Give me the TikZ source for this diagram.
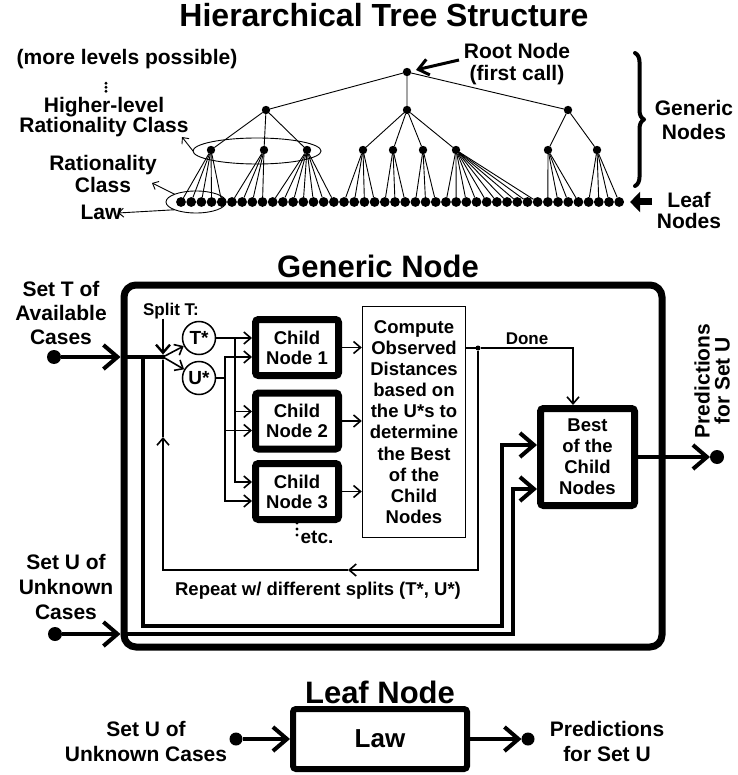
\documentclass[tikz,border=0pt]{standalone}
\usepackage{fontspec}
\setmainfont{Liberation Sans}
\usetikzlibrary{arrows.meta, shapes.geometric, decorations.pathreplacing, calc}
\newcommand{\myfs}[2]{\fontsize{#1}{#2}\selectfont\bfseries}
\begin{document}
\begin{tikzpicture}[x=1pt,y=-1pt,
  every node/.style={inner sep=0pt, outer sep=0pt},
  lbl/.style={align=center, font=\myfs{21}{22}},
  tline/.style={line width=0.9pt},
  idot/.style={circle, fill=black, minimum size=8.4pt},
  ldot/.style={circle, fill=black, minimum size=9.8pt},
  oval/.style={draw, ellipse, line width=0.9pt},
  larrow/.style={line width=0.9pt, -{Straight Barb[length=5pt,width=9pt]}},
  heavy/.style={line width=4pt, -{Straight Barb[length=14pt,width=24pt]}},
  heavyline/.style={line width=4pt},
  thinl/.style={line width=1.6pt},
  thinarr/.style={line width=1.6pt, -{Straight Barb[length=7pt,width=12pt]}},
  bigdot/.style={circle, fill=black, minimum size=14pt},
  jdot/.style={circle, fill=black, minimum size=5pt},
  boldbox/.style={draw, line width=7pt, rounded corners=3pt, outer sep=3.5pt, align=center, font=\myfs{18.5}{20}},
  ring/.style={draw, circle, line width=1.5pt, minimum size=33pt, font=\myfs{19}{20}, outer sep=0.75pt},
]
\fill[white] (0,0) rectangle (737,775);
\useasboundingbox (0,0) rectangle (737,775);

%% ---------------- Hierarchical tree ----------------
\node[font=\myfs{32}{34}, anchor=base] (title1) at (384,27) {Hierarchical Tree Structure};

\node[idot] (R) at (407,72) {};
\node[idot] (A) at (266,110) {};
\node[idot] (B) at (407,110) {};
\node[idot] (C) at (568,110) {};
\node[idot] (a1) at (211,150) {};
\node[idot] (a2) at (264,150) {};
\node[idot] (a3) at (307,150) {};
\node[idot] (b1) at (363,150) {};
\node[idot] (b2) at (393,150) {};
\node[idot] (b3) at (423,150) {};
\node[idot] (b4) at (456,150) {};
\node[idot] (c1) at (548,150) {};
\node[idot] (c2) at (597,150) {};
\foreach \i in {0,...,43} \node[ldot] (L\i) at ({181+10.19*\i},202) {};

\draw[tline] (R) -- (A) (R) -- (B) (R) -- (C)
  (A) -- (a1) (A) -- (a2) (A) -- (a3)
  (B) -- (b1) (B) -- (b2) (B) -- (b3) (B) -- (b4)
  (C) -- (c1) (C) -- (c2);
\foreach \p/\a/\b in {a1/0/4, a2/5/8, a3/9/15, b1/16/19, b2/20/22, b3/23/25, b4/26/35, c1/36/39, c2/40/43}
  {\foreach \i in {\a,...,\b} {\draw[tline] (\p) -- (L\i);}}

\node[oval, minimum width=128pt, minimum height=26pt] (ell1) at (257,151) {};
\node[oval, minimum width=60pt, minimum height=22pt] (ell2) at (196,202) {};

\node[lbl, anchor=base] (more) at (127,65) {(more levels possible)};
\fill (106,83.3) circle (1.7) (106,87.3) circle (1.7) (106,91.3) circle (1.7);
\node[lbl, font=\myfs{21}{20}] (hl) at (104,117.5) {Higher-level\\Rationality Class};
\node[lbl, font=\myfs{21}{22}] (rc) at (103,174) {Rationality\\Class};
\node[lbl, anchor=base] (law1) at (101,220) {Law};
\coordinate (hlT) at (182,137);
\coordinate (rcT) at (152,183);
\coordinate (lawT) at (118,213);
\draw[larrow] (ell1.west) -- (hlT);
\draw[larrow] (ell2.160) -- (rcT);
\draw[larrow] (ell2.200) -- (lawT);

\node[lbl, font=\myfs{21}{22}] (rootlbl) at (517,64.5) {Root Node\\(first call)};
\coordinate (ra) at (459,60);
\draw[line width=3pt, -{Straight Barb[length=10pt,width=16pt]}, shorten >=5pt] (ra) -- (R);

\draw[decorate, decoration={brace, amplitude=9pt}, line width=4pt, line cap=round, line join=round] (635,53) -- (635,186);
\node[lbl, font=\myfs{21}{24}] (genlbl) at (694,119.5) {Generic\\Nodes};

\node[lbl, font=\myfs{21}{21}] (leaflbl) at (689,210) {Leaf\\Nodes};
\coordinate (la) at (652,202);
\draw[line width=7pt, -{Triangle[length=10pt,width=20pt]}, shorten >=6pt] (la) -- (L43);

%% ---------------- Generic node ----------------
\node[font=\myfs{31}{33}, anchor=base] (gtitle) at (378,277) {Generic Node};
\node[draw, line width=7pt, rounded corners=12pt, minimum width=538pt, minimum height=362pt, outer sep=3.5pt] (gbox) at (393,466) {};

\node[lbl, font=\myfs{21}{24}] (setT) at (61,313) {Set T of\\Available\\Cases};
\node[lbl, font=\myfs{21}{25}] (setU) at (66,587) {Set U of\\Unknown\\Cases};
\node[bigdot] (tin) at (54,357) {};
\node[bigdot] (uin) at (55,634) {};
\node[bigdot] (pout) at (717,457) {};
\node[lbl, font=\myfs{21}{20}, rotate=90] (predG) at (712,381) {Predictions\\for Set U};

\node[jdot] (S) at (163,357) {};
\node[font=\myfs{17}{18}, anchor=base] (splitlbl) at (171,315) {Split T:};
\node[ring] (ts) at (199,338) {T*};
\node[ring] (us) at (199,378) {U*};

\node[boldbox, minimum width=83pt, minimum height=56pt] (ch1) at (297,347.5) {Child\\Node 1};
\node[boldbox, minimum width=83pt, minimum height=56pt] (ch2) at (297,421) {Child\\Node 2};
\node[boldbox, minimum width=83pt, minimum height=56pt] (ch3) at (297,491.5) {Child\\Node 3};
\fill (297,523) circle (1.7) (297,529) circle (1.7) (297,535) circle (1.7);
\node[font=\myfs{19}{20}, anchor=base] (etc) at (317,543) {etc.};

\node[draw, line width=1.5pt, minimum width=103pt, minimum height=231pt, align=center, font=\myfs{18.5}{21.1}, outer sep=0.75pt] (comp) at (414,422)
  {Compute\\Observed\\Distances\\based on\\the U*s to\\determine\\the Best\\of the\\Child\\Nodes};
\node[boldbox, minimum width=94pt, minimum height=97pt, font=\myfs{18.5}{21}] (best) at (587.5,457) {Best\\of the\\Child\\Nodes};

% input T
\draw[heavy] (tin) -- (tin -| gbox.west);
\draw[heavyline] (tin -| gbox.west) -- (S);
% split arrow
\draw[line width=2.4pt, -{Straight Barb[length=8pt,width=14pt]}] (splitlbl.south -| S) -- (S);
\draw[thinarr] (S) -- (ts);
\draw[thinarr] (S) -- (us);
% T* bus
\coordinate (tk) at (235,338);
\draw[thinarr] (ts) -- (ch1.west |- ts);
\draw[thinarr] (tk) |- ($(ch2.west)+(0,-9.5)$);
\draw[thinarr] (tk) |- ($(ch3.west)+(0,-9.5)$);
% U* bus
\coordinate (uk) at (225,378);
\draw[thinl] (us) -- (uk);
\draw[thinarr] (uk) |- ($(ch1.west)+(0,9.5)$);
\draw[thinarr] (uk) |- ($(ch2.west)+(0,9.5)$);
\draw[thinarr] (uk) |- ($(ch3.west)+(0,9.5)$);
% child outputs
\draw[thinarr] (ch1) -- (ch1 -| comp.west);
\draw[thinarr] (ch2) -- (ch2 -| comp.west);
\draw[thinarr] (ch3) -- (ch3 -| comp.west);
% done
\node[jdot] (J) at (478,348) {};
\coordinate (dn) at (573,348);
\draw[thinl] (comp.east |- J) -- (J);
\draw[thinarr] (J) -- (dn) -- (dn |- best.north);
\node[font=\myfs{17}{18}, anchor=base] (done) at (527,344) {Done};
% repeat loop
\coordinate (lpA) at (348,570);
\coordinate (lpB) at (163,437);
\draw[thinarr] (J) |- (lpA);
\draw[thinarr] (lpA) -| (lpB);
\draw[thinl] (lpB) -- (S);
\node[font=\myfs{18.5}{20}, anchor=base] (rep) at (318,595) {Repeat w/ different splits (T*, U*)};
% T path to best
\coordinate (tb) at (143,357);
\coordinate (tk2) at (502,626);
\coordinate (bi1y) at (0,445);
\draw[heavy] (tb) |- (tk2) |- (best.west |- bi1y);
% U path to best
\coordinate (uk2) at (513,489);
\draw[heavy] (uin) -- (uin -| gbox.west);
\draw[heavy] (uin -| gbox.west) -| (uk2) -- (best.west |- uk2);
% output
\draw[heavy] (best) -- (pout);

%% ---------------- Leaf node ----------------
\node[font=\myfs{31}{33}, anchor=base] (ltitle) at (380,703) {Leaf Node};
\node[draw, line width=6pt, rounded corners=3pt, minimum width=174pt, minimum height=60pt, outer sep=3pt, font=\myfs{26}{28}] (lawbox) at (380,739) {Law};
\node[circle, fill=black, minimum size=13pt] (lin) at (236,739) {};
\node[circle, fill=black, minimum size=13pt] (lout) at (528,739) {};
\draw[heavy] (lin) -- (lawbox);
\draw[heavy] (lawbox) -- (lout);
\node[lbl, font=\myfs{21}{25}] (lsetU) at (146,741) {Set U of\\Unknown Cases};
\node[lbl, font=\myfs{21}{25}] (lpred) at (607,741) {Predictions\\for Set U};
\end{tikzpicture}
\end{document}
